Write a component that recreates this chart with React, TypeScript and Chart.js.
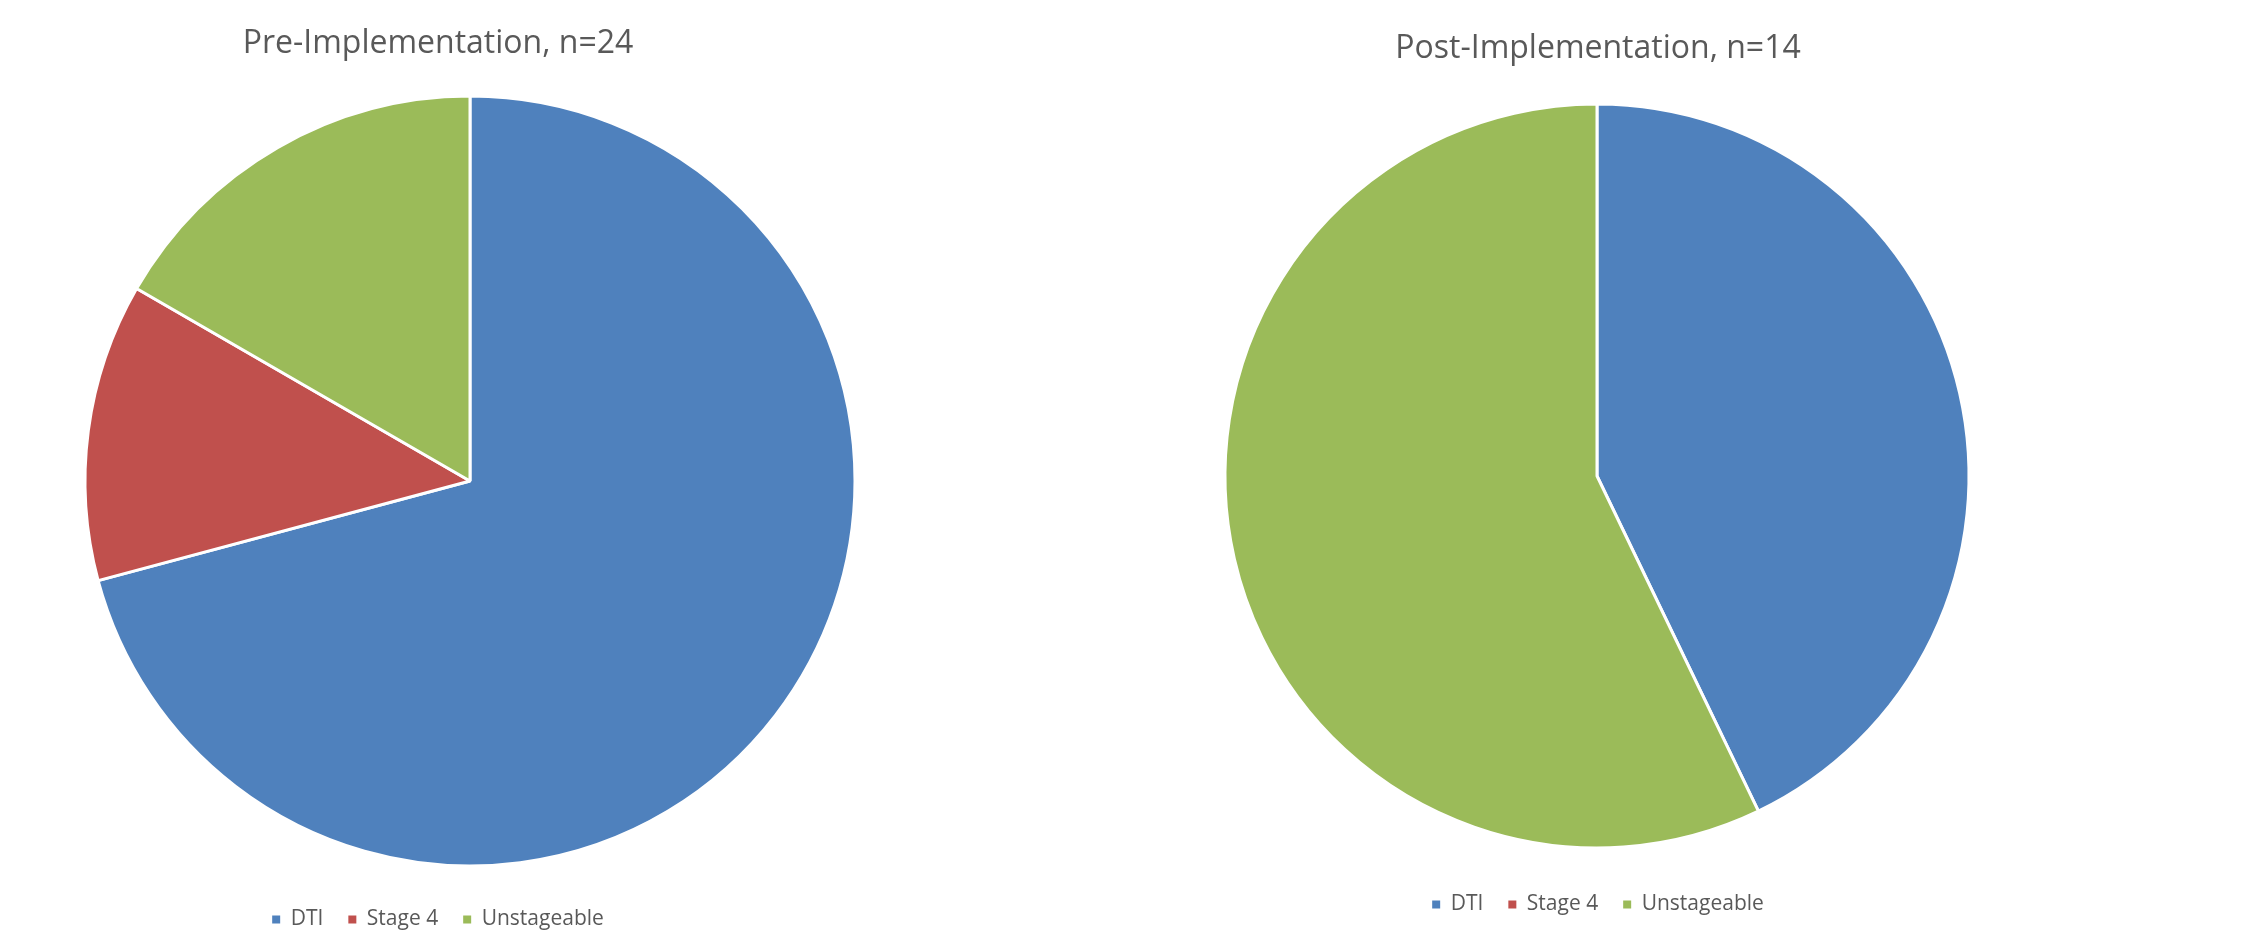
import React, { useEffect, useRef } from "react";
import { Chart, registerables } from "chart.js";

Chart.register(...registerables);

const categories = ["DTI", "Stage 4", "Unstageable"];
const preValues = [17, 3, 4];
const postValues = [6, 0, 8];
const preTitle = "Pre-Implementation, n=24";
const postTitle = "Post-Implementation, n=14";
const sliceColors = ["#4F81BD", "#C0504D", "#9BBB59"];
const textColor = "#595959";

type PanelProps = {
  values: number[];
  title: string;
  left: number;
  width: number;
  height: number;
  titleTop: number;
  cx: number;
  cy: number;
  r: number;
};

function PiePanel(props: PanelProps) {
  const ref = useRef<HTMLCanvasElement | null>(null);
  useEffect(() => {
    if (!ref.current) return;
    const { cx, cy, r, left } = props;
    const areaPlugin = {
      id: "placeArea",
      afterLayout(chart: any) {
        const a = chart.chartArea;
        const half = r + 2;
        const lx = cx - left;
        a.left = lx - half;
        a.right = lx + half;
        a.top = cy - half;
        a.bottom = cy + half;
        a.width = half * 2;
        a.height = half * 2;
      },
    };
    const chart = new Chart(ref.current, {
      type: "pie",
      data: {
        labels: categories,
        datasets: [
          {
            data: props.values,
            backgroundColor: sliceColors,
            borderColor: "#ffffff",
            borderWidth: 3,
            radius: r,
          },
        ],
      },
      options: {
        animation: false,
        responsive: false,
        maintainAspectRatio: false,
        font: { family: "'Open Sans', sans-serif" },
        plugins: {
          tooltip: { enabled: false },
          title: {
            display: true,
            text: props.title,
            color: textColor,
            font: { family: "'Open Sans', sans-serif", size: 32, weight: "normal", lineHeight: 1.2 },
            padding: { top: props.titleTop, bottom: 0 },
          },
          legend: {
            display: true,
            position: "bottom",
            labels: {
              color: textColor,
              boxWidth: 8,
              boxHeight: 8,
              padding: 25,
              font: { family: "'Open Sans', sans-serif", size: 21 },
              generateLabels(c: any) {
                const base = (Chart as any).overrides.pie.plugins.legend.labels.generateLabels(c);
                return base.map((it: any) => ({ ...it, lineWidth: 0, strokeStyle: it.fillStyle }));
              },
            },
          },
        },
      },
      plugins: [areaPlugin],
    } as any);
    return () => chart.destroy();
  }, []);
  return (
    <canvas
      ref={ref}
      width={props.width}
      height={props.height}
      style={{ position: "absolute", left: props.left, top: 0, width: props.width, height: props.height, display: "block" }}
    />
  );
}

export default function App() {
  return (
    <div style={{ position: "fixed", left: 0, top: 0, width: 2244, height: 938, background: "#ffffff", overflow: "hidden" }}>
      <PiePanel values={preValues} title={preTitle} left={0} width={876} height={940} titleTop={25} cx={470} cy={481} r={385} />
      <PiePanel values={postValues} title={postTitle} left={1198} width={800} height={925} titleTop={30} cx={1597} cy={476} r={372} />
    </div>
  );
}
